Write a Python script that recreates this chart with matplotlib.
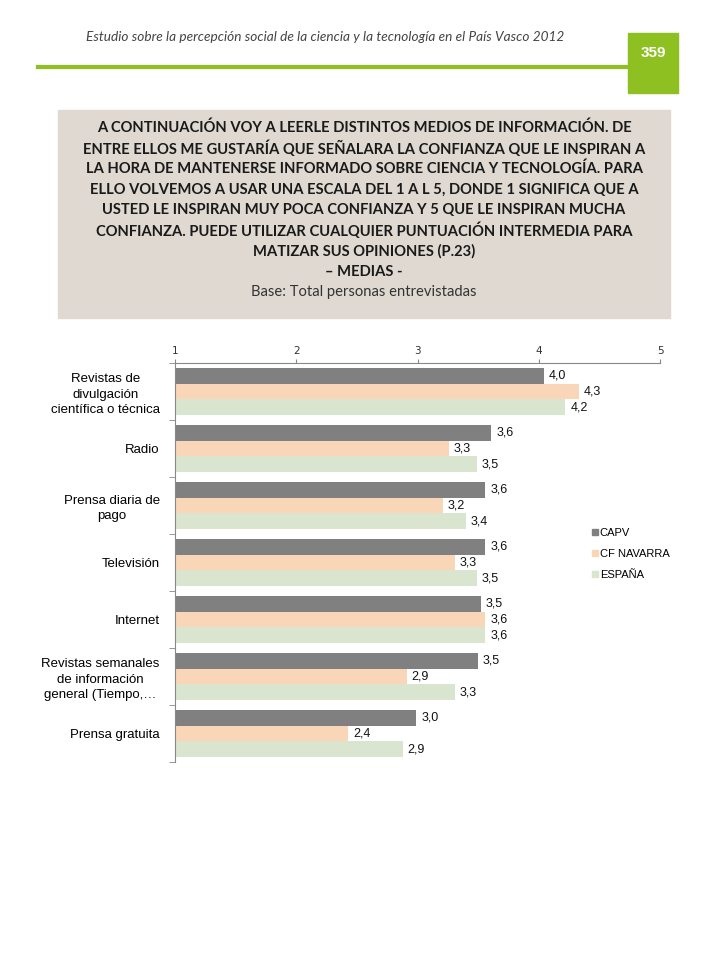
import matplotlib
matplotlib.use('Agg')
import matplotlib.pyplot as plt
from matplotlib.patches import Rectangle
from matplotlib.lines import Line2D
import numpy as np

# datos del gráfico
categorias = ['Revistas de\ndivulgación\ncientífica o técnica', 'Radio', 'Prensa diaria de\npago',
              'Televisión', 'Internet', 'Revistas semanales\nde información\ngeneral (Tiempo,…',
              'Prensa gratuita']
capv = [4.04, 3.61, 3.56, 3.56, 3.52, 3.50, 2.99]
navarra = [4.33, 3.26, 3.21, 3.31, 3.56, 2.91, 2.43]
espana = [4.22, 3.49, 3.40, 3.49, 3.56, 3.31, 2.88]
series = ['CAPV', 'CF NAVARRA', 'ESPAÑA']
colores = ['#808080', '#FAD6B8', '#DAE5CF']

verde = '#8DC020'

fig = plt.figure(figsize=(7.2, 9.6), dpi=100)

# cabecera
fig.text(325/720, 1-37/960, 'Estudio sobre la percepción social de la ciencia y la tecnología en el País Vasco 2012',
         ha='center', va='center', fontsize=9.8, style='italic', color='#444444', family='Lato')
fig.add_artist(Line2D([38/720, 640/720], [1-67/960, 1-67/960], color=verde, lw=3, transform=fig.transFigure))
fig.add_artist(Rectangle((628/720, 1-93/960), 50/720, 60/960, color=verde, transform=fig.transFigure))
fig.text(653/720, 1-53/960, '359', ha='center', va='center', fontsize=11, weight='bold', color='white',
         family='Liberation Sans')

# caja del enunciado
fig.add_artist(Rectangle((58/720, 1-318/960), 612/720, 208/960, color='#DFD9D1', transform=fig.transFigure))
enunciado = ['A CONTINUACIÓN VOY A LEERLE DISTINTOS MEDIOS DE INFORMACIÓN. DE',
             'ENTRE ELLOS ME GUSTARÍA QUE SEÑALARA LA CONFIANZA QUE LE INSPIRAN A',
             'LA HORA DE MANTENERSE INFORMADO SOBRE CIENCIA Y TECNOLOGÍA. PARA',
             'ELLO VOLVEMOS A USAR UNA ESCALA DEL 1 A L 5, DONDE 1 SIGNIFICA QUE A',
             'USTED LE INSPIRAN MUY POCA CONFIANZA Y 5 QUE LE INSPIRAN MUCHA',
             'CONFIANZA. PUEDE UTILIZAR CUALQUIER PUNTUACIÓN INTERMEDIA PARA',
             'MATIZAR SUS OPINIONES (P.23)',
             '– MEDIAS -']
for i, linea in enumerate(enunciado):
    fig.text(364/720, 1-(128 + i*20.5)/960, linea, ha='center', va='center', fontsize=10.6,
             weight='bold', color='#1a1a1a', family='Lato')
fig.text(364/720, 1-(128 + 8*20.5)/960, 'Base: Total personas entrevistadas', ha='center', va='center',
         fontsize=10.6, color='#333333', family='Lato')

# gráfico de barras
ax = fig.add_axes([175/720, 1-762/960, 485/720, 399/960])
y = np.arange(len(categorias))
h = 0.28
for k, (vals, nombre, col) in enumerate(zip([capv, navarra, espana], series, colores)):
    pos = y + (k-1)*h
    ax.barh(pos, [v-1 for v in vals], left=1, height=h, color=col, label=nombre)
    for p, v in zip(pos, vals):
        ax.text(v + 0.04, p, ('%.1f' % v).replace('.', ','), va='center', ha='left', fontsize=9,
                family='Liberation Sans', color='#111111',
                bbox=dict(facecolor='white', edgecolor='none', pad=1.0))

ax.set_xlim(1, 5)
ax.set_ylim(len(categorias)-0.5, -0.5)
ax.xaxis.tick_top()
ax.set_xticks([1, 2, 3, 4, 5])
ax.tick_params(axis='x', labelsize=7.5, colors='#888888', labelcolor='#333333', length=3, pad=2)
ax.set_yticks(y)
ax.set_yticklabels(categorias, fontsize=9.5, family='Liberation Sans', multialignment='center',
                   linespacing=1.35)
ax.set_yticks(np.arange(-0.5, len(categorias)), minor=True)
ax.tick_params(axis='y', which='major', length=0, pad=11)
ax.tick_params(axis='y', which='minor', length=4, color='#888888')
for s in ['right', 'bottom']:
    ax.spines[s].set_visible(False)
for s in ['top', 'left']:
    ax.spines[s].set_color('#888888')

handles = [Line2D([], [], marker='s', ls='none', color=c, markersize=4) for c in colores]
fig.legend(handles, series, loc='upper left', bbox_to_anchor=(582/720, 1-518/960), frameon=False,
           handlelength=0.5, handletextpad=0.2, labelspacing=1.0, prop={'family': 'Liberation Sans', 'size': 8})

fig.savefig('out.png', dpi=100)
